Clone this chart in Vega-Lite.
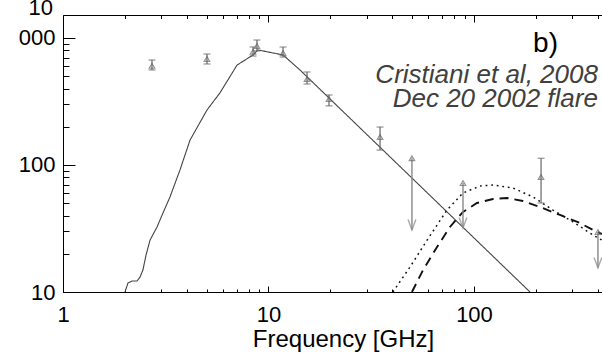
{
  "$schema": "https://vega.github.io/schema/vega-lite/v6.json",
  "width": 539,
  "height": 277,
  "autosize": {"type": "none"},
  "padding": {"left": 63, "top": 15, "right": 0, "bottom": 61},
  "background": "white",
  "view": {"stroke": null},
  "config": {
    "font": "Liberation Sans",
    "axis": {
      "domainColor": "black",
      "domainWidth": 1,
      "tickColor": "black",
      "tickWidth": 1,
      "labelColor": "black",
      "labelFont": "Liberation Sans",
      "labelFontSize": 22,
      "titleFont": "Liberation Sans",
      "titleFontSize": 24,
      "titleFontWeight": "normal",
      "titleColor": "black",
      "grid": false,
      "labelFlush": false,
      "labelOverlap": false
    }
  },
  "datasets": {
    "curves": [
      {"f": 2.003, "s": 10, "series": "model"},
      {"f": 2.071, "s": 11.77, "series": "model"},
      {"f": 2.167, "s": 12.2, "series": "model"},
      {"f": 2.292, "s": 12.2, "series": "model"},
      {"f": 2.37, "s": 13.1, "series": "model"},
      {"f": 2.449, "s": 14.9, "series": "model"},
      {"f": 2.535, "s": 19.5, "series": "model"},
      {"f": 2.651, "s": 25.6, "series": "model"},
      {"f": 2.868, "s": 32.5, "series": "model"},
      {"f": 3.066, "s": 41.9, "series": "model"},
      {"f": 3.316, "s": 56, "series": "model"},
      {"f": 3.71, "s": 91.5, "series": "model"},
      {"f": 4.15, "s": 157, "series": "model"},
      {"f": 5.02, "s": 271, "series": "model"},
      {"f": 5.8, "s": 369, "series": "model"},
      {"f": 7.03, "s": 612, "series": "model"},
      {"f": 8.41, "s": 735, "series": "model"},
      {"f": 8.89, "s": 805, "series": "model"},
      {"f": 11.77, "s": 735, "series": "model"},
      {"f": 14.23, "s": 560, "series": "model"},
      {"f": 187.3, "s": 10, "series": "model"},
      {"f": 40.3, "s": 10, "series": "dotted"},
      {"f": 48.8, "s": 15.7, "series": "dotted"},
      {"f": 59.1, "s": 25.6, "series": "dotted"},
      {"f": 73.9, "s": 44.2, "series": "dotted"},
      {"f": 88.4, "s": 60.2, "series": "dotted"},
      {"f": 106.9, "s": 68.3, "series": "dotted"},
      {"f": 123.7, "s": 69.6, "series": "dotted"},
      {"f": 154.8, "s": 65.9, "series": "dotted"},
      {"f": 193.7, "s": 56, "series": "dotted"},
      {"f": 242.3, "s": 44.2, "series": "dotted"},
      {"f": 303.3, "s": 35.6, "series": "dotted"},
      {"f": 379.3, "s": 28.1, "series": "dotted"},
      {"f": 419.5, "s": 25.6, "series": "dotted"},
      {"f": 49.9, "s": 10, "series": "dashed"},
      {"f": 56.5, "s": 14.9, "series": "dashed"},
      {"f": 66.1, "s": 22.6, "series": "dashed"},
      {"f": 76.4, "s": 32.5, "series": "dashed"},
      {"f": 88.4, "s": 42.7, "series": "dashed"},
      {"f": 103.4, "s": 50.2, "series": "dashed"},
      {"f": 123.7, "s": 54, "series": "dashed"},
      {"f": 144.7, "s": 55, "series": "dashed"},
      {"f": 173.1, "s": 52.1, "series": "dashed"},
      {"f": 209.5, "s": 46.7, "series": "dashed"},
      {"f": 262.1, "s": 40.4, "series": "dashed"},
      {"f": 328, "s": 34.9, "series": "dashed"},
      {"f": 379.4, "s": 30.8, "series": "dashed"},
      {"f": 419.5, "s": 28.6, "series": "dashed"}
    ],
    "obs": [
      {"f": 2.71, "s": 603, "lo": 560, "hi": 671},
      {"f": 5.02, "s": 684, "lo": 624, "hi": 748},
      {"f": 8.41, "s": 780, "lo": 721, "hi": 850},
      {"f": 8.79, "s": 865, "lo": 791, "hi": 964},
      {"f": 11.77, "s": 762, "lo": 708, "hi": 849},
      {"f": 15.4, "s": 475, "lo": 434, "hi": 540},
      {"f": 19.7, "s": 331, "lo": 292, "hi": 356},
      {"f": 34.9, "s": 166, "lo": 131, "hi": 199},
      {"f": 212, "s": 80.5, "lo": 50.2, "hi": 113}
    ],
    "lim": [
      {"f": 49.9, "s": 113, "lo": 30.8},
      {"f": 88.4, "s": 72, "lo": 31.9},
      {"f": 401, "s": 29.6, "lo": 15.5}
    ],
    "cite": [
      {"f": 401, "s": 442, "text": "Cristiani et al, 2008"},
      {"f": 401, "s": 283.7, "text": "Dec 20 2002 flare"}
    ],
    "panel": [
      {"f": 256.4, "s": 776, "text": "b)"}
    ],
    "cut": [
      {"f": 0.894, "s": 1517, "text": "10"}
    ]
  },
  "layer": [
    {
      "data": {"name": "curves"},
      "mark": {"type": "line", "clip": true},
      "encoding": {
        "x": {
          "field": "f", "type": "quantitative",
          "scale": {"type": "log", "domain": [1, 419.7], "nice": false},
          "axis": {
            "orient": "bottom",
            "values": [1, 10, 100],
            "labelExpr": "datum.value == 1 ? '1' : datum.value == 10 ? '10' : '100'",
            "ticks": false,
            "labelPadding": 12,
            "title": "Frequency [GHz]",
            "titleX": 280,
            "titlePadding": 2
          }
        },
        "y": {
          "field": "s", "type": "quantitative",
          "scale": {"type": "log", "domain": [10, 1517], "nice": false},
          "axis": {
            "orient": "left",
            "values": [10, 100, 1000],
            "labelExpr": "datum.value == 10 ? '10' : datum.value == 100 ? '100' : '000'",
            "ticks": false,
            "labelPadding": 8,
            "title": null
          }
        },
        "color": {
          "field": "series", "type": "nominal",
          "scale": {"domain": ["model", "dotted", "dashed"], "range": ["#444444", "#111111", "#111111"]},
          "legend": null
        },
        "strokeDash": {
          "field": "series", "type": "nominal",
          "scale": {"domain": ["model", "dotted", "dashed"], "range": [[1, 0], [1.8, 3.8], [9, 6]]},
          "legend": null
        },
        "strokeWidth": {
          "field": "series", "type": "nominal",
          "scale": {"domain": ["model", "dotted", "dashed"], "range": [1.1, 1.9, 1.6]},
          "legend": null
        }
      }
    },
    {
      "data": {"name": "obs"},
      "mark": {"type": "errorbar", "ticks": {"size": 7, "color": "#666666"}, "color": "#666666", "thickness": 1.2},
      "encoding": {
        "x": {
          "field": "f", "type": "quantitative",
          "axis": {
            "orient": "bottom",
            "values": [1, 10, 100],
            "labels": false,
            "domain": false,
            "tickSize": 6,
            "offset": -6,
            "title": null
          }
        },
        "y": {
          "field": "lo", "type": "quantitative",
          "axis": {
            "orient": "left",
            "values": [10, 100, 1000],
            "labels": false,
            "domain": false,
            "tickSize": 12,
            "offset": -12,
            "title": null
          }
        },
        "y2": {"field": "hi"}
      }
    },
    {
      "data": {"name": "lim"},
      "mark": {"type": "rule", "color": "#888888", "strokeWidth": 1.4},
      "encoding": {
        "x": {
          "field": "f", "type": "quantitative",
          "axis": {
            "orient": "bottom",
            "values": [2,3,4,5,6,7,8,9,20,30,40,50,60,70,80,90,200,300,400],
            "labels": false,
            "domain": false,
            "tickSize": 3,
            "offset": -3,
            "title": null
          }
        },
        "y": {
          "field": "s", "type": "quantitative",
          "axis": {
            "orient": "left",
            "values": [20,30,40,50,60,70,80,90,200,300,400,500,600,700,800,900],
            "labels": false,
            "domain": false,
            "tickSize": 6,
            "offset": -6,
            "title": null
          }
        },
        "y2": {"field": "lo"}
      }
    },
    {
      "data": {"name": "lim"},
      "mark": {"type": "point", "shape": "M-0.6,-1.6L0,0L0.6,-1.6", "size": 169, "filled": false, "color": "#888888", "strokeWidth": 1.4},
      "encoding": {
        "x": {
          "field": "f", "type": "quantitative",
          "axis": {
            "orient": "top",
            "values": [1, 10, 100],
            "labels": false,
            "ticks": false,
            "title": null
          }
        },
        "y": {"field": "lo", "type": "quantitative", "axis": null}
      }
    },
    {
      "data": {"name": "obs"},
      "mark": {"type": "point", "shape": "triangle-up", "size": 30, "filled": false, "color": "#666666", "strokeWidth": 1.2},
      "encoding": {
        "x": {
          "field": "f", "type": "quantitative",
          "axis": {
            "orient": "top",
            "values": [1, 10, 100],
            "labels": false,
            "domain": false,
            "tickSize": 7,
            "offset": -7,
            "title": null
          }
        },
        "y": {"field": "s", "type": "quantitative", "axis": null}
      }
    },
    {
      "data": {"name": "lim"},
      "mark": {"type": "point", "shape": "triangle-up", "size": 30, "filled": false, "color": "#666666", "strokeWidth": 1.2},
      "encoding": {
        "x": {
          "field": "f", "type": "quantitative",
          "axis": {
            "orient": "top",
            "values": [2,3,4,5,6,7,8,9,20,30,40,50,60,70,80,90,200,300,400],
            "labels": false,
            "domain": false,
            "tickSize": 3.5,
            "offset": -3.5,
            "title": null
          }
        },
        "y": {"field": "s", "type": "quantitative", "axis": null}
      }
    },
    {
      "data": {"name": "cite"},
      "mark": {"type": "text", "align": "right", "baseline": "alphabetic", "font": "Liberation Sans", "fontStyle": "italic", "fontSize": 26, "color": "#404040"},
      "encoding": {
        "x": {"field": "f", "type": "quantitative", "axis": null},
        "y": {"field": "s", "type": "quantitative", "axis": null},
        "text": {"field": "text"}
      }
    },
    {
      "data": {"name": "panel"},
      "mark": {"type": "text", "align": "right", "baseline": "alphabetic", "font": "Liberation Sans", "fontSize": 28, "color": "black"},
      "encoding": {
        "x": {"field": "f", "type": "quantitative", "axis": null},
        "y": {"field": "s", "type": "quantitative", "axis": null},
        "text": {"field": "text"}
      }
    },
    {
      "data": {"name": "cut"},
      "mark": {"type": "text", "align": "right", "baseline": "alphabetic", "font": "Liberation Sans", "fontSize": 22, "color": "black"},
      "encoding": {
        "x": {"field": "f", "type": "quantitative", "axis": null},
        "y": {"field": "s", "type": "quantitative", "axis": null},
        "text": {"field": "text"}
      }
    }
  ],
  "resolve": {"axis": {"x": "independent", "y": "independent"}}
}
